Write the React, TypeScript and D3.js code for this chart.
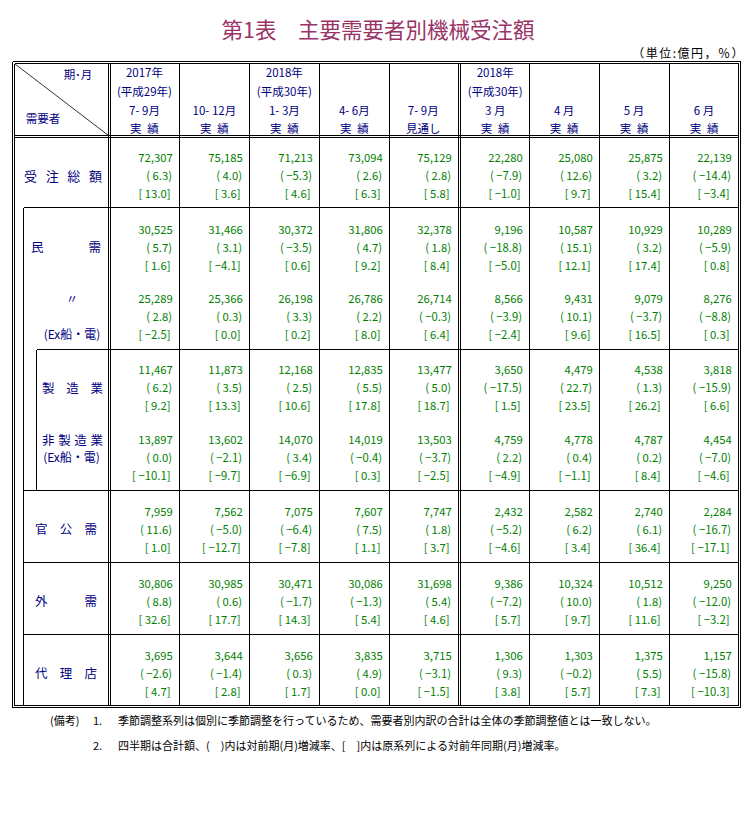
import React from "react";
import * as d3 from "d3";

// ---- data ----
const periods = ["2017Q3", "2017Q4", "2018Q1", "2018Q2", "2018Q3", "2018-03", "2018-04", "2018-05", "2018-06"];
const headerYear = ["2017年", "", "2018年", "", "", "2018年", "", "", ""];
const headerEra = ["(平成29年)", "", "(平成30年)", "", "", "(平成30年)", "", "", ""];
const headerPeriod = ["7- 9月", "10- 12月", "1- 3月", "4- 6月", "7- 9月", "3 月", "4 月", "5 月", "6 月"];
const headerStatus = ["実\u2002績", "実\u2002績", "実\u2002績", "実\u2002績", "見通し", "実\u2002績", "実\u2002績", "実\u2002績", "実\u2002績"];

const totalOrders = [72307, 75185, 71213, 73094, 75129, 22280, 25080, 25875, 22139];
const totalChange = [6.3, 4.0, -5.3, 2.6, 2.8, -7.9, 12.6, 3.2, -14.4];
const totalYoY = [13.0, 3.6, 4.6, 6.3, 5.8, -1.0, 9.7, 15.4, -3.4];

const privateOrders = [30525, 31466, 30372, 31806, 32378, 9196, 10587, 10929, 10289];
const privateChange = [5.7, 3.1, -3.5, 4.7, 1.8, -18.8, 15.1, 3.2, -5.9];
const privateYoY = [1.6, -4.1, 0.6, 9.2, 8.4, -5.0, 12.1, 17.4, 0.8];

const privateExOrders = [25289, 25366, 26198, 26786, 26714, 8566, 9431, 9079, 8276];
const privateExChange = [2.8, 0.3, 3.3, 2.2, -0.3, -3.9, 10.1, -3.7, -8.8];
const privateExYoY = [-2.5, 0.0, 0.2, 8.0, 6.4, -2.4, 9.6, 16.5, 0.3];

const mfgOrders = [11467, 11873, 12168, 12835, 13477, 3650, 4479, 4538, 3818];
const mfgChange = [6.2, 3.5, 2.5, 5.5, 5.0, -17.5, 22.7, 1.3, -15.9];
const mfgYoY = [9.2, 13.3, 10.6, 17.8, 18.7, 1.5, 23.5, 26.2, 6.6];

const nonMfgOrders = [13897, 13602, 14070, 14019, 13503, 4759, 4778, 4787, 4454];
const nonMfgChange = [0.0, -2.1, 3.4, -0.4, -3.7, 2.2, 0.4, 0.2, -7.0];
const nonMfgYoY = [-10.1, -9.7, -6.9, 0.3, -2.5, -4.9, -1.1, 8.4, -4.6];

const publicOrders = [7959, 7562, 7075, 7607, 7747, 2432, 2582, 2740, 2284];
const publicChange = [11.6, -5.0, -6.4, 7.5, 1.8, -5.2, 6.2, 6.1, -16.7];
const publicYoY = [1.0, -12.7, -7.8, 1.1, 3.7, -4.6, 3.4, 36.4, -17.1];

const foreignOrders = [30806, 30985, 30471, 30086, 31698, 9386, 10324, 10512, 9250];
const foreignChange = [8.8, 0.6, -1.7, -1.3, 5.4, -7.2, 10.0, 1.8, -12.0];
const foreignYoY = [32.6, 17.7, 14.3, 5.4, 4.6, 5.7, 9.7, 11.6, -3.2];

const agencyOrders = [3695, 3644, 3656, 3835, 3715, 1306, 1303, 1375, 1157];
const agencyChange = [-2.6, -1.4, 0.3, 4.9, -3.1, 9.3, -0.2, 5.5, -15.8];
const agencyYoY = [4.7, 2.8, 1.7, 0.0, -1.5, 3.8, 5.7, 7.3, -10.3];

const rows = [
  { key: "total", vals: totalOrders, chg: totalChange, yoy: totalYoY },
  { key: "private", vals: privateOrders, chg: privateChange, yoy: privateYoY },
  { key: "privateEx", vals: privateExOrders, chg: privateExChange, yoy: privateExYoY },
  { key: "mfg", vals: mfgOrders, chg: mfgChange, yoy: mfgYoY },
  { key: "nonMfg", vals: nonMfgOrders, chg: nonMfgChange, yoy: nonMfgYoY },
  { key: "public", vals: publicOrders, chg: publicChange, yoy: publicYoY },
  { key: "foreign", vals: foreignOrders, chg: foreignChange, yoy: foreignYoY },
  { key: "agency", vals: agencyOrders, chg: agencyChange, yoy: agencyYoY },
];

// ---- layout ----
const rowFirstLine = [156.7, 229, 298, 369.3, 439, 510.7, 582.7, 654.7];
const lineStep = 17.9;

const JP = "'Noto Sans CJK JP', 'Noto Sans', sans-serif";
const NAVY = "#000080";
const GREEN = "#008000";

function Spread({ chars, x0, x1, y, fs }: { chars: string[]; x0: number; x1: number; y: number; fs: number }) {
  const n = chars.length;
  const step = n > 1 ? (x1 - x0 - fs) / (n - 1) : 0;
  return (
    <g>
      {chars.map((c, i) => (
        <text key={i} x={x0 + fs / 2 + i * step} y={y} fontSize={fs} textAnchor="middle" dominantBaseline="central" fill={NAVY} fontFamily={JP}>
          {c}
        </text>
      ))}
    </g>
  );
}

export default function App() {
  const x = d3.scaleBand<string>().domain(periods).range([109.5, 739]).paddingInner(0).paddingOuter(0);
  const bw = x.bandwidth();
  const px = (v: number) => Math.floor(v) + 0.5;
  const fmtAmt = d3.format(",");
  const fmtPct = (v: number) => (v < 0 ? "−" : "") + d3.format(".1f")(Math.abs(v));

  const colRight = (i: number) => (i === 4 ? 458.5 : i === 8 ? 738.5 : px((x(periods[i]) as number) + bw));

  const top = 63.5, bottom = 705.5, left = 14.5, right = 738.5;

  const lines: { x1: number; y1: number; x2: number; y2: number }[] = [];
  [[12.5, 61.5, 740.5, 707.5], [left, top, right, bottom]].forEach(([a, b, c, d]) => {
    lines.push({ x1: a, y1: b, x2: c, y2: b });
    lines.push({ x1: a, y1: d, x2: c, y2: d });
    lines.push({ x1: a, y1: b, x2: a, y2: d });
    lines.push({ x1: c, y1: b, x2: c, y2: d });
  });
  lines.push({ x1: 108.5, y1: top, x2: 108.5, y2: bottom });
  lines.push({ x1: 110.5, y1: top, x2: 110.5, y2: bottom });
  lines.push({ x1: left, y1: 135.5, x2: right, y2: 135.5 });
  lines.push({ x1: left, y1: 137.5, x2: right, y2: 137.5 });
  periods.forEach((p, i) => {
    if (i === 8) return;
    const b = (x(p) as number) + bw;
    if (i === 4) {
      lines.push({ x1: 458.5, y1: top, x2: 458.5, y2: bottom });
      lines.push({ x1: 460.5, y1: top, x2: 460.5, y2: bottom });
    } else {
      lines.push({ x1: px(b), y1: top, x2: px(b), y2: bottom });
    }
  });
  lines.push({ x1: 23.5, y1: 207.5, x2: right, y2: 207.5 });
  lines.push({ x1: 36.5, y1: 349.5, x2: right, y2: 349.5 });
  lines.push({ x1: 23.5, y1: 490.5, x2: right, y2: 490.5 });
  lines.push({ x1: 23.5, y1: 562.5, x2: right, y2: 562.5 });
  lines.push({ x1: 23.5, y1: 634.5, x2: right, y2: 634.5 });
  lines.push({ x1: 23.5, y1: 207.5, x2: 23.5, y2: bottom });
  lines.push({ x1: 36.5, y1: 349.5, x2: 36.5, y2: 490.5 });

  return (
    <svg width={753} height={820} style={{ position: "absolute", left: 0, top: 0, background: "#fff" }}>
      <rect x={0} y={0} width={753} height={820} fill="#fff" />
      <text x={378} y={28} fontSize={21.5} textAnchor="middle" dominantBaseline="central" fill="#993366" fontFamily={JP}>
        第1表　主要需要者別機械受注額
      </text>
      <text x={745} y={52} fontSize={12} letterSpacing={1.5} textAnchor="end" dominantBaseline="central" fill="#000" fontFamily={JP}>
        （単位:億円，％）
      </text>

      <g shapeRendering="crispEdges">
        {lines.map((l, i) => (
          <line key={i} x1={l.x1} y1={l.y1} x2={l.x2} y2={l.y2} stroke="#000" strokeWidth={1} />
        ))}
      </g>
      <line x1={15} y1={64} x2={108.5} y2={135.5} stroke="#333" strokeWidth={1} />

      <text x={78} y={74} fontSize={11.5} textAnchor="middle" dominantBaseline="central" fill={NAVY} fontFamily={JP}>期･月</text>
      <text x={43} y={118} fontSize={11.5} textAnchor="middle" dominantBaseline="central" fill={NAVY} fontFamily={JP}>需要者</text>

      {periods.map((p, i) => {
        const cx = (x(p) as number) + bw / 2 + (i === 4 ? -1 : i === 5 ? 1 : 0);
        const lines4 = [headerYear[i], headerEra[i], headerPeriod[i], headerStatus[i]];
        const ys = [72.3, 90.5, 110, 127.8];
        return (
          <g key={p}>
            {lines4.map((t, j) =>
              t ? (
                <text key={j} x={cx} y={ys[j]} fontSize={11.5} textAnchor="middle" dominantBaseline="central" fill={NAVY} fontFamily={JP}>
                  {t}
                </text>
              ) : null
            )}
          </g>
        );
      })}

      <Spread chars={["受", "注", "総", "額"]} x0={24} x1={102} y={175} fs={13} />
      <Spread chars={["民", "需"]} x0={31} x1={101} y={246.7} fs={12.5} />
      <text x={72} y={298} fontSize={12} textAnchor="middle" dominantBaseline="central" fill={NAVY} fontFamily={JP}>〃</text>
      <text x={72} y={333} fontSize={12} textAnchor="middle" dominantBaseline="central" fill={NAVY} fontFamily={JP}>(Ex船・電)</text>
      <Spread chars={["製", "造", "業"]} x0={42} x1={103} y={387.7} fs={12.5} />
      <Spread chars={["非", "製", "造", "業"]} x0={42} x1={103} y={439} fs={12.5} />
      <text x={71.5} y={456.7} fontSize={12} textAnchor="middle" dominantBaseline="central" fill={NAVY} fontFamily={JP}>(Ex船・電)</text>
      <Spread chars={["官", "公", "需"]} x0={35} x1={97} y={528.7} fs={12.5} />
      <Spread chars={["外", "需"]} x0={35} x1={97} y={600.7} fs={12.5} />
      <Spread chars={["代", "理", "店"]} x0={35} x1={97} y={672.7} fs={12.5} />

      {rows.map((r, ri) => (
        <g key={r.key}>
          {periods.map((p, i) => {
            const rx = colRight(i);
            const y0 = rowFirstLine[ri];
            return (
              <g key={p} fill={GREEN} fontFamily={JP} fontSize={11.3}>
                <text x={rx - 6.7} y={y0} textAnchor="end" dominantBaseline="central">{fmtAmt(r.vals[i])}</text>
                <text x={rx - 7.5} y={y0 + lineStep} textAnchor="end" dominantBaseline="central">{"( " + fmtPct(r.chg[i]) + ")"}</text>
                <text x={rx - 9} y={y0 + 2 * lineStep} textAnchor="end" dominantBaseline="central">{"[ " + fmtPct(r.yoy[i]) + "]"}</text>
              </g>
            );
          })}
        </g>
      ))}

      <g fontFamily={JP} fontSize={11} fill="#000">
        <text x={50} y={720} dominantBaseline="central">(備考)</text>
        <text x={93} y={720} dominantBaseline="central">1.</text>
        <text x={118} y={720} dominantBaseline="central">季節調整系列は個別に季節調整を行っているため、需要者別内訳の合計は全体の季節調整値とは一致しない。</text>
        <text x={93} y={745} dominantBaseline="central">2.</text>
        <text x={118} y={745} dominantBaseline="central">四半期は合計額、(　)内は対前期(月)増減率、[　]内は原系列による対前年同期(月)増減率。</text>
      </g>
    </svg>
  );
}
